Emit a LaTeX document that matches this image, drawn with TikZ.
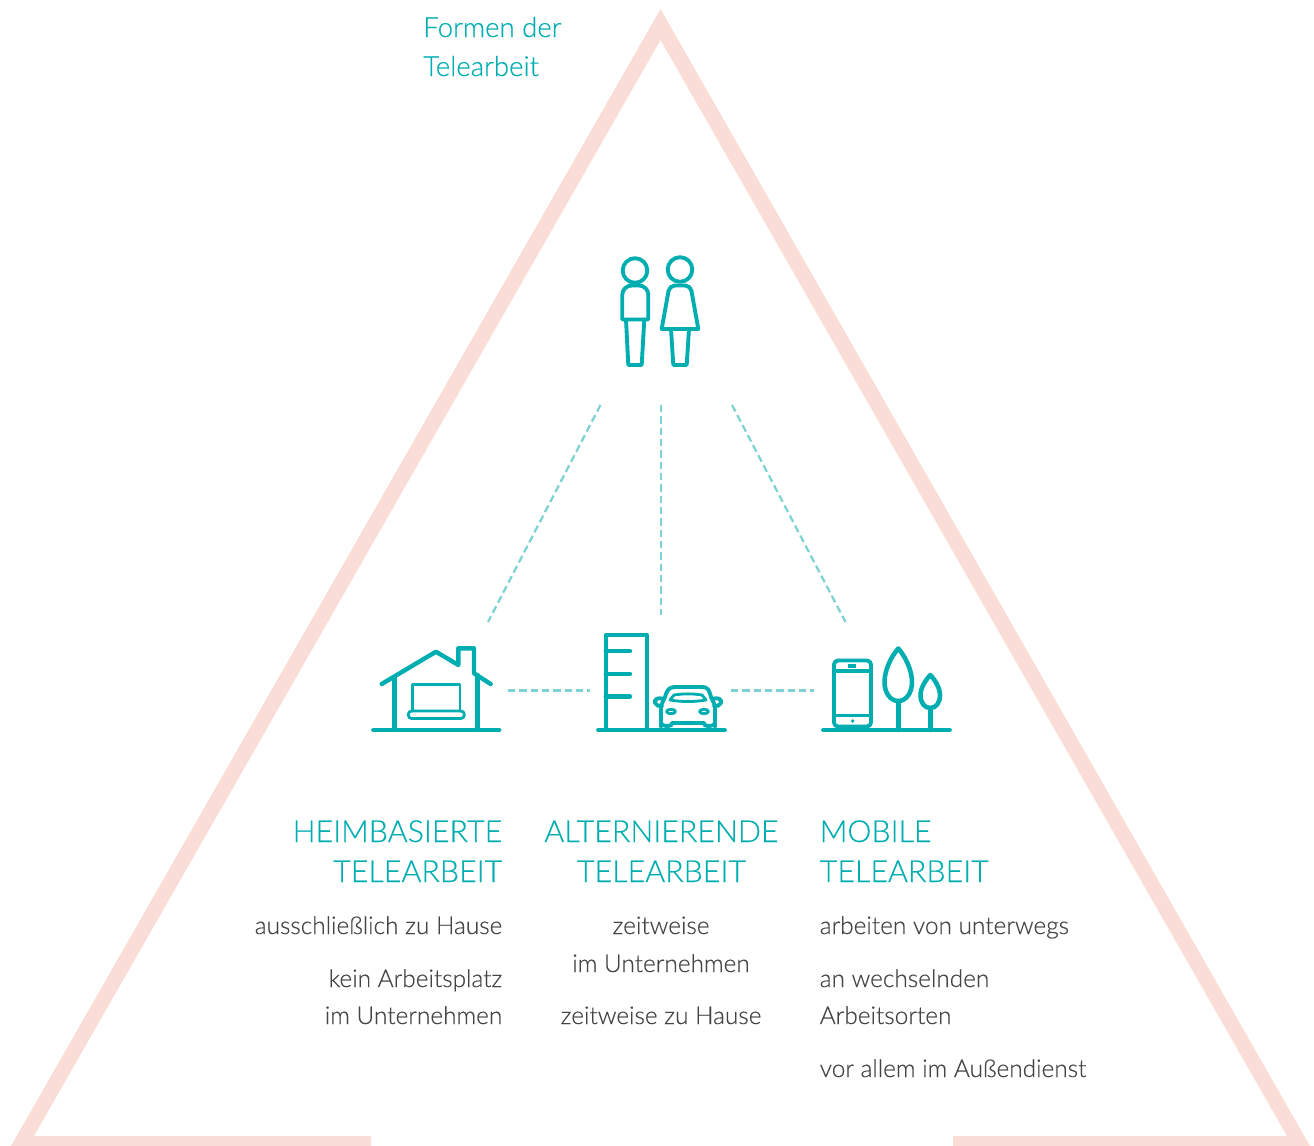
\documentclass[tikz,border=0pt]{standalone}
\usepackage{fontspec}
\setmainfont{Lato}[UprightFont=* Light,RawFeature={embolden=0.35}]
\definecolor{tri}{HTML}{F9DDD6}
\definecolor{teal}{HTML}{00ADB0}
\definecolor{dash}{HTML}{7FD2D3}
\definecolor{txt}{HTML}{444444}
\tikzset{
 ico/.style={draw=teal,line width=2.9pt,line join=round,line cap=round,fill=none},
 icothin/.style={draw=teal,line width=2.1pt,line join=round,line cap=round,fill=none},
 ground/.style={draw=teal,line width=3.6pt,line cap=round},
 dashline/.style={draw=dash,line width=1.7pt,dash pattern=on 5.5pt off 3pt},
 head/.style={text=teal,font=\fontsize{22.8}{28}\selectfont,inner sep=0pt},
 body/.style={text=txt,font=\fontsize{18.3}{22}\selectfont,inner sep=0pt},
 ttl/.style={text=teal,font=\fontsize{20.7}{24}\selectfont,inner sep=0pt,anchor=base west},
}
\begin{document}
\begin{tikzpicture}[x=0.75pt,y=-0.75pt]
\useasboundingbox (0,0) rectangle (1314,1146);
% triangle
\fill[tri] (660.5,9) -- (1310,1146) -- (953,1146) -- (953,1136) -- (1287,1136) -- (660.5,40) -- (34,1136) -- (371,1136) -- (371,1146) -- (11,1146) -- cycle;
% title
\node[ttl] (t1) at (423,37) {Formen der};
\node[ttl] (t2) at (423,76) {Telearbeit};
% people
\draw[ico] (635,270.5) circle (12.3);
\draw[ico] (622.3,319.5) [rounded corners=7pt] -- (622.3,285.5) -- (648.3,285.5) [sharp corners] -- (648.3,319.5) -- cycle;
\draw[ico] (626,319.5) -- (628.3,365) -- (641.7,365) -- (644.3,319.5);
\draw[ico] (680,269.5) circle (12.3);
\draw[ico] (661.7,329) [rounded corners=4pt] -- (669.5,285.5) -- (690.5,285.5) [sharp corners] -- (698.3,329) -- cycle;
\draw[ico] (671,329) -- (673.3,365) -- (686.7,365) -- (689,329);
% connectors
\coordinate (pl) at (600.5,405); \coordinate (pm) at (661,405); \coordinate (pr) at (732,405);
\coordinate (hp) at (488,622); \coordinate (bp) at (661,615); \coordinate (mp) at (845.5,622);
\coordinate (hb) at (508,690.5); \coordinate (bh) at (590,690.5); \coordinate (bm) at (731,690.5); \coordinate (mb) at (814,690.5);
\draw[dashline] (pl) -- (hp);
\draw[dashline] (pm) -- (bp);
\draw[dashline] (pr) -- (mp);
\draw[dashline] (hb) -- (bh);
\draw[dashline] (bm) -- (mb);
% house
\draw[ground] (373.5,730) -- (499,730);
\draw[ico,line width=3.3pt] (381.7,684) -- (436,651.7) -- (458.3,665) -- (458.3,648.3) -- (474,648.3) -- (474,673.3) -- (490.7,684);
\draw[ico,line width=3.3pt] (394.3,678) -- (394.3,730);
\draw[ico,line width=3.3pt] (477.3,675) -- (477.3,730);
\draw[icothin] (412.7,711) -- (412.7,684.5) -- (460,684.5) -- (460,711);
\draw[icothin,rounded corners=2.5pt] (408.3,711) -- (464.3,711) -- (464.3,718.5) -- (408.3,718.5) -- cycle;
% building
\draw[ground] (598.5,730) -- (724.5,730);
\draw[ico,line width=3.3pt] (605.7,730) -- (605.7,635) -- (646.7,635) -- (646.7,730);
\draw[ico,line width=3.3pt] (605.7,651) -- (630,651);
\draw[ico,line width=3.3pt] (605.7,674) -- (630,674);
\draw[ico,line width=3.3pt] (605.7,696.5) -- (630,696.5);
% car
\draw[ico] (661,727) -- (661,708) .. controls (661,703) and (664,701) .. (665,697) .. controls (667,690) and (669,687) .. (675,687) -- (702,687) .. controls (708,687) and (709,690) .. (711,697) .. controls (712,701) and (715,703) .. (715,708) -- (715,727);
\draw[ico] (661,722) .. controls (661,725) and (664,726) .. (668,726) .. controls (671,726) and (672,725) .. (672,723) -- (704,723) .. controls (704,725) and (705,726) .. (708,726) .. controls (712,726) and (715,725) .. (715,722);
\draw[icothin] (674,695) .. controls (684,693.5) and (692,693.5) .. (702,695) -- (706,700) .. controls (695,702) and (681,702) .. (670,700) -- cycle;
\draw[icothin] (671,711.5) ellipse (4.5 and 2.2);
\draw[icothin] (704,711.5) ellipse (4.5 and 2.2);
\draw[ico] (664,699) .. controls (658,697) and (654,699) .. (655,703) .. controls (656,706) and (659,706) .. (662,706);
\draw[ico] (712,699) .. controls (718,697) and (722,699) .. (721,703) .. controls (720,706) and (717,706) .. (714,706);
% phone and trees
\draw[ground] (823.5,730) -- (949.5,730);
\draw[ico,rounded corners=3pt] (834,660.5) rectangle (871,726.5);
\draw[ico] (834,671) -- (871,671);
\draw[ico] (834,715.5) -- (871,715.5);
\fill[teal] (848.3,664) rectangle (856,667.8);
\fill[teal] (852.7,721) circle (1.9);
\draw[ico,line width=3.4pt] (898.3,648.5) .. controls (905,656) and (912,670) .. (912,682) .. controls (912,693) and (906,701) .. (898.3,701) .. controls (890.5,701) and (884.5,693) .. (884.5,682) .. controls (884.5,670) and (891.5,656) .. (898.3,648.5) -- cycle;
\draw[ico,line width=3.4pt] (898.3,701) -- (898.3,730);
\draw[ico,line width=3.4pt] (930.3,675) .. controls (935,680) and (940,688) .. (940,695) .. controls (940,703) and (936,708) .. (930.3,708) .. controls (924.6,708) and (920.5,703) .. (920.5,695) .. controls (920.5,688) and (925.6,680) .. (930.3,675) -- cycle;
\draw[ico,line width=3.4pt] (930.3,708) -- (930.3,730);
% left column
\node[head,anchor=base east] (h1a) at (502.5,842) {HEIMBASIERTE};
\node[head,anchor=base east] (h1b) at (502.5,882) {TELEARBEIT};
\node[body,anchor=base east] (b1a) at (502.5,934) {ausschließlich zu Hause};
\node[body,anchor=base east] (b1b) at (502.5,987) {kein Arbeitsplatz};
\node[body,anchor=base east] (b1c) at (502.5,1024) {im Unternehmen};
% middle column
\node[head,anchor=base] (h2a) at (661.5,842) {ALTERNIERENDE};
\node[head,anchor=base] (h2b) at (661.5,882) {TELEARBEIT};
\node[body,anchor=base] (b2a) at (661,934) {zeitweise};
\node[body,anchor=base] (b2b) at (661,972) {im Unternehmen};
\node[body,anchor=base] (b2c) at (661,1024) {zeitweise zu Hause};
% right column
\node[head,anchor=base west] (h3a) at (819.5,842) {MOBILE};
\node[head,anchor=base west] (h3b) at (819.5,882) {TELEARBEIT};
\node[body,anchor=base west] (b3a) at (819.5,934) {arbeiten von unterwegs};
\node[body,anchor=base west] (b3b) at (819.5,987) {an wechselnden};
\node[body,anchor=base west] (b3c) at (819.5,1024) {Arbeitsorten};
\node[body,anchor=base west] (b3d) at (819.5,1077) {vor allem im Außendienst};
\end{tikzpicture}
\end{document}
